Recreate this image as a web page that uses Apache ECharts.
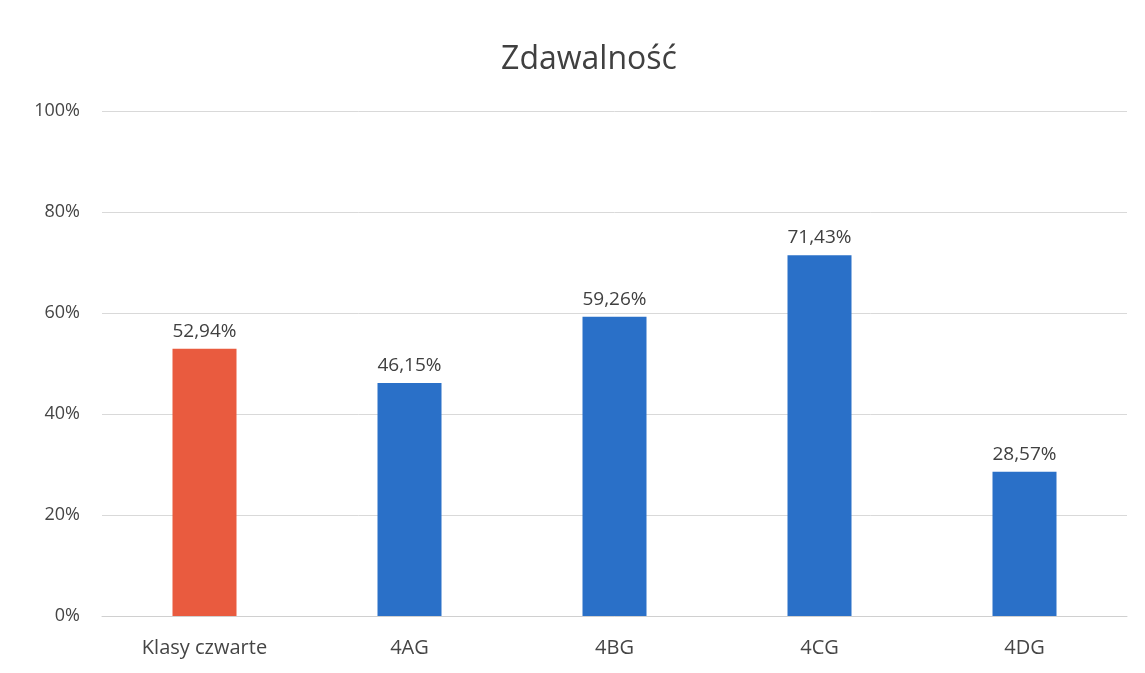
<!DOCTYPE html>
<html>
<head>
<meta charset="utf-8">
<script src="https://cdn.jsdelivr.net/npm/echarts@6/dist/echarts.min.js"></script>
<style>
html,body{margin:0;padding:0;background:#fff;}
#main{width:1145px;height:673px;}
</style>
</head>
<body>
<div id="main"></div>
<script>
// dane wykresu
var categories = ['Klasy czwarte', '4AG', '4BG', '4CG', '4DG'];
var passRate = [52.94, 46.15, 59.26, 71.43, 28.57];
var barColors = ['#E95B3F', '#2A70C8', '#2A70C8', '#2A70C8', '#2A70C8'];
var yTicks = [0, 20, 40, 60, 80, 100];

var myChart = echarts.init(document.getElementById('main'));
myChart.setOption({
    backgroundColor: '#fff',
    textStyle: { fontFamily: 'Open Sans' },
    title: {
        text: 'Zdawalność',
        left: 584,
        textAlign: 'center',
        top: 39,
        textStyle: { fontSize: 32, fontWeight: 'normal', color: '#404040', fontFamily: 'Open Sans' }
    },
    grid: { left: 102, right: 18, top: 111, bottom: 57 },
    xAxis: {
        type: 'category',
        data: categories,
        axisLine: { lineStyle: { color: '#d0d0d0', width: 1 } },
        axisTick: { show: false },
        axisLabel: { color: '#454545', fontSize: 20, margin: 22 }
    },
    yAxis: {
        type: 'value',
        min: yTicks[0],
        max: yTicks[yTicks.length - 1],
        interval: 20,
        axisLine: { show: false },
        axisTick: { show: false },
        splitLine: { lineStyle: { color: '#d9d9d9', width: 1 } },
        axisLabel: { color: '#454545', fontSize: 18, margin: 22, formatter: '{value}%' }
    },
    series: [{
        type: 'bar',
        barWidth: 64,
        data: passRate.map(function (v, i) {
            return { value: v, itemStyle: { color: barColors[i] } };
        }),
        label: {
            show: true,
            position: 'top',
            distance: 8,
            color: '#404040',
            fontSize: 19,
            formatter: function (p) { return p.value.toFixed(2).replace('.', ',') + '%'; }
        }
    }]
});
</script>
</body>
</html>
